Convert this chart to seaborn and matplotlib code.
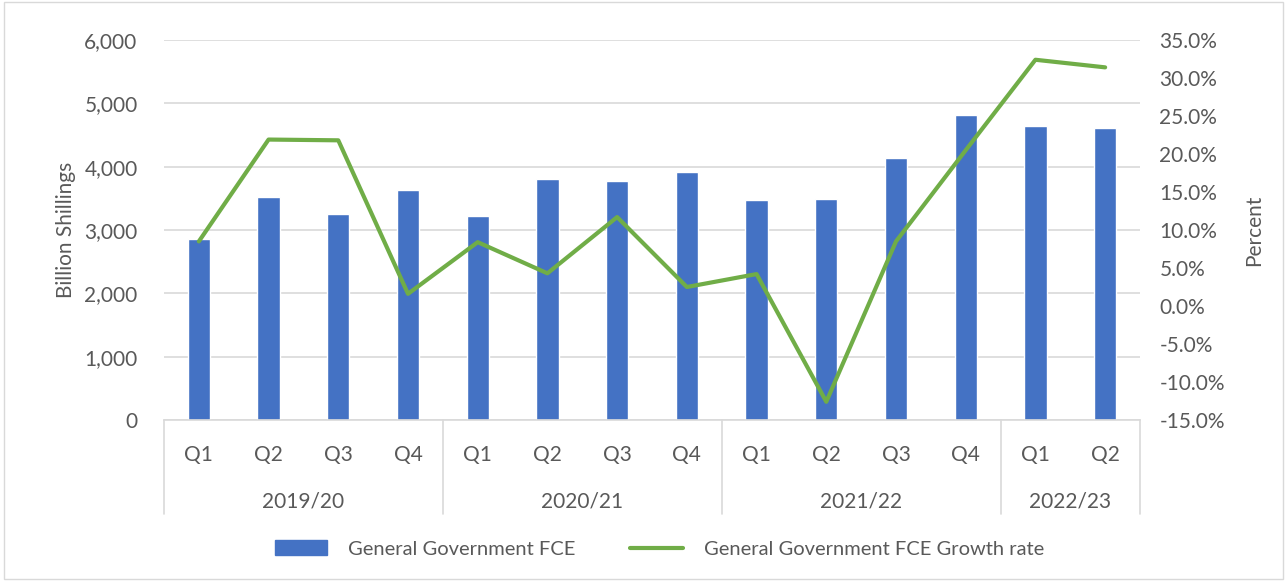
import matplotlib
matplotlib.use("Agg")
import matplotlib.pyplot as plt
import matplotlib.transforms as mtransforms
from matplotlib.patches import Patch, Rectangle
from matplotlib.lines import Line2D
import seaborn as sns
import pandas as pd
import numpy as np

quarters = ["Q1", "Q2", "Q3", "Q4", "Q1", "Q2", "Q3", "Q4", "Q1", "Q2", "Q3", "Q4", "Q1", "Q2"]
years = ["2019/20", "2020/21", "2021/22", "2022/23"]
year_sizes = [4, 4, 4, 2]
fce = [2860, 3520, 3255, 3625, 3215, 3805, 3770, 3920, 3475, 3495, 4140, 4810, 4640, 4615]
growth = [8.5, 21.9, 21.8, 1.6, 8.4, 4.3, 11.7, 2.5, 4.2, -12.6, 8.5, 20.5, 32.4, 31.4]

sns.set_theme(style="white")
plt.rcParams["font.family"] = ["Lato", "DejaVu Sans"]
txt = "#595959"
grid_c = "#d9d9d9"
blue = "#4472c4"
green = "#70ad47"
fs = 15

fig = plt.figure(figsize=(12.87, 5.81), dpi=100)
ax = fig.add_axes([164 / 1287, 1 - 420 / 581, (1140 - 164) / 1287, 380 / 581])

idx = list(range(len(fce)))
df = pd.DataFrame({"pos": idx, "fce": fce, "growth": growth})
sns.barplot(data=df, x="pos", y="fce", color=blue, width=0.32, saturation=1,
            ax=ax, native_scale=True, legend=False)
ax.set_xlim(-0.5, len(fce) - 0.5)
ax.set_ylim(0, 6000)
ax.set_yticks(np.arange(0, 6001, 1000))
ax.set_yticklabels([f"{v:,}" for v in range(0, 6001, 1000)])
ax.yaxis.grid(True, color=grid_c, linewidth=1.2)
ax.set_axisbelow(True)
for s in ["top", "right", "left"]:
    ax.spines[s].set_visible(False)
ax.spines["bottom"].set_color(grid_c)
ax.spines["bottom"].set_linewidth(1.2)
ax.set_xlabel("")
ax.set_ylabel("Billion Shillings", fontsize=fs, color=txt, labelpad=6)
ax.tick_params(axis="y", length=0, labelsize=fs, labelcolor=txt, pad=19)
ax.set_xticks(idx)
ax.set_xticklabels(quarters)
ax.tick_params(axis="x", length=0, labelsize=fs, labelcolor=txt, pad=18)

ax2 = ax.twinx()
sns.lineplot(data=df, x="pos", y="growth", color=green, linewidth=3, ax=ax2)
ax2.set_ylim(-15, 35)
ax2.set_yticks(np.arange(-15, 36, 5))
ax2.set_yticklabels([f"{v:.1f}%" for v in np.arange(-15, 36, 5)])
ax2.tick_params(axis="y", length=0, labelsize=fs, labelcolor=txt, pad=14)
ax2.set_ylabel("Percent", fontsize=fs, color=txt, labelpad=14)
ax2.set_xlabel("")
for s in ax2.spines.values():
    s.set_visible(False)
ax2.set_xlim(-0.5, len(fce) - 0.5)

# group separators and year labels
trans = mtransforms.blended_transform_factory(ax.transData, ax.transAxes)
bounds = np.concatenate([[0], np.cumsum(year_sizes)]) - 0.5
sep_bottom = -(514 - 420) / 380
for b in bounds:
    ax.add_line(Line2D([b, b], [0, sep_bottom], transform=trans, color=grid_c,
                       linewidth=1.2, clip_on=False))
for y, a, b in zip(years, bounds[:-1], bounds[1:]):
    ax.text((a + b) / 2, -(501 - 420) / 380, y, transform=trans, ha="center",
            va="center", fontsize=fs, color=txt)

handles = [Patch(facecolor=blue, edgecolor=blue),
           Line2D([0], [0], color=green, linewidth=3)]
fig.legend(handles, ["General Government FCE", "General Government FCE Growth rate"],
           loc="center", bbox_to_anchor=(0.5124, 1 - 549 / 581), ncol=2, frameon=False,
           fontsize=14.5, labelcolor=txt, handlelength=2.6, columnspacing=2.7,
           handletextpad=1.05)

fig.patches.append(Rectangle((4 / 1287, 2 / 581), 1 - 8 / 1287, 1 - 4 / 581,
                             transform=fig.transFigure, fill=False,
                             edgecolor=grid_c, linewidth=1))

fig.savefig("out.png", dpi=100)
